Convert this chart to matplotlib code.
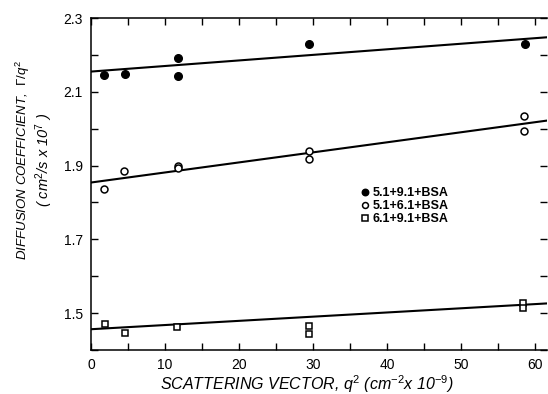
import numpy as np
import matplotlib
matplotlib.use("Agg")
import matplotlib.pyplot as plt

plt.rcParams['font.family'] = ['Liberation Sans', 'DejaVu Sans']
plt.rcParams['mathtext.fontset'] = 'custom'
plt.rcParams['mathtext.it'] = 'Liberation Sans:italic'
plt.rcParams['mathtext.rm'] = 'Liberation Sans'

# ---- data ----
x_a = [1.75, 4.6, 11.7, 11.7, 29.4, 58.6]
y_a = [2.146, 2.149, 2.192, 2.143, 2.229, 2.231]

x_b = [1.75, 4.45, 11.7, 11.7, 29.4, 29.4, 58.5, 58.5]
y_b = [1.836, 1.886, 1.899, 1.893, 1.940, 1.918, 2.034, 1.994]

x_c = [1.9, 4.6, 11.6, 29.4, 29.4, 58.4, 58.4]
y_c = [1.470, 1.447, 1.463, 1.465, 1.444, 1.527, 1.513]

# fitted lines (value at x=0 and at the right edge)
fit_x = [0, 61.6]
fit_a = [2.155, 2.248]
fit_b = [1.854, 2.022]
fit_c = [1.456, 1.526]

labels = ["5.1+9.1+BSA", "5.1+6.1+BSA", "6.1+9.1+BSA"]

fig = plt.figure(figsize=(5.48, 3.94), dpi=100)
ax = fig.add_axes([0.166, 0.112, 0.832, 0.842])

ax.plot(fit_x, fit_a, color="black", lw=1.5)
ax.plot(fit_x, fit_b, color="black", lw=1.5)
ax.plot(fit_x, fit_c, color="black", lw=1.5)

ha, = ax.plot(x_a, y_a, "o", ms=5.5, mfc="black", mec="black", ls="none")
hb, = ax.plot(x_b, y_b, "o", ms=5, mfc="white", mec="black", mew=1.1, ls="none")
hc, = ax.plot(x_c, y_c, "s", ms=5, mfc="white", mec="black", mew=1.1, ls="none")

ax.set_xlim(0, 61.6)
ax.set_ylim(1.4, 2.3)
ax.set_xticks(np.arange(0, 61, 5))
ax.set_xticklabels([str(v) if v % 10 == 0 else "" for v in range(0, 61, 5)])
ax.set_yticks(np.arange(1.4, 2.31, 0.1))
ax.set_yticklabels(["", "1.5", "", "1.7", "", "1.9", "", "2.1", "", "2.3"])
ax.tick_params(direction="in", length=5, width=1, top=True, right=True,
               labelsize=10, pad=6)
ax.spines["right"].set_visible(False)
for s in ["left", "bottom", "top"]:
    ax.spines[s].set_linewidth(1.1)

ax.legend([ha, hb, hc], labels, loc="upper left", bbox_to_anchor=(0.58, 0.51),
          frameon=False, prop={"size": 9, "weight": "bold"},
          handlelength=0.6, handletextpad=0.3,
          labelspacing=0.08, borderpad=0, markerscale=0.85)

fig.text(0.042, 0.595, r"DIFFUSION COEFFICIENT,  $\Gamma/q^2$", rotation=90,
         ha="center", va="center", fontsize=9.5, style="italic")
fig.text(0.080, 0.595, r"( cm$^2$/s x 10$^7$ )", rotation=90,
         ha="center", va="center", fontsize=10.5, style="italic")
fig.text(0.56, 0.025, r"SCATTERING VECTOR, $q^2$ (cm$^{-2}$x 10$^{-9}$)",
         ha="center", va="center", fontsize=11.5, style="italic")

fig.savefig("out.png", dpi=100, facecolor="white")
